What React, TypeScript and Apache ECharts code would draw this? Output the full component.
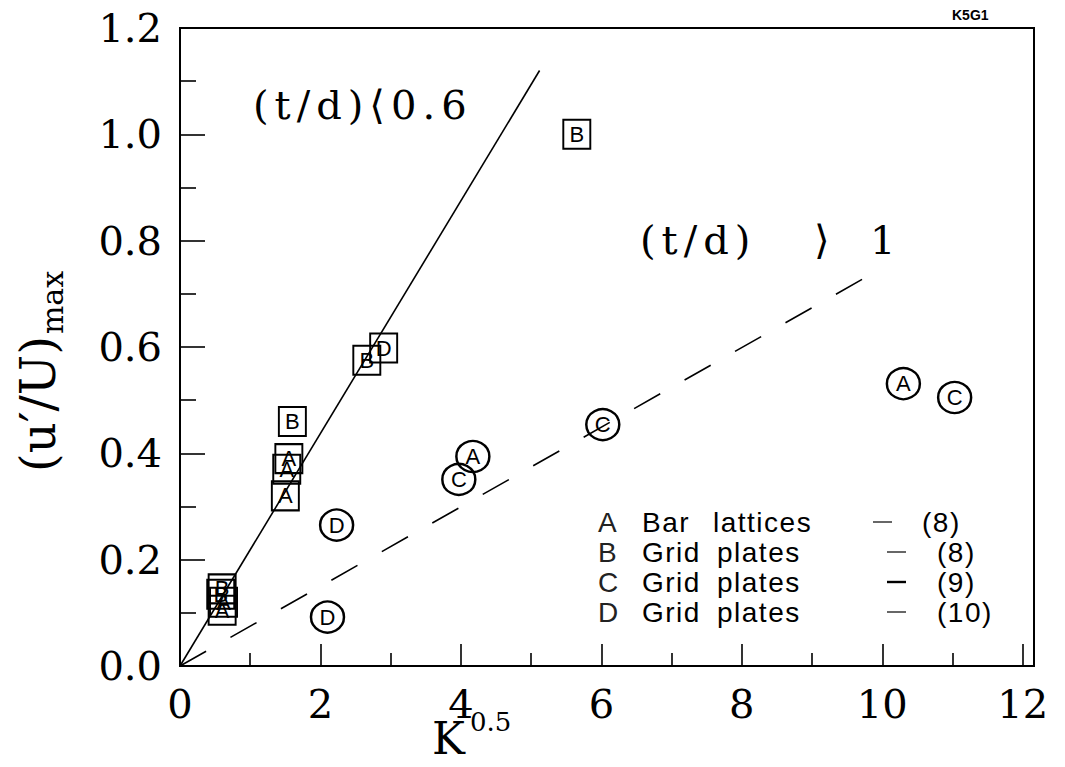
import React, { useEffect, useRef } from "react";
import * as echarts from "echarts";

// Fit lines through the origin
const fitThin: number[][] = [[0, 0], [5.12, 1.12]]; // (t/d) < 0.6
const fitThick: number[][] = [[0, 0], [9.95, 0.745]]; // (t/d) > 1

// Thin plates (t/d < 0.6): square markers
const squareA: number[][] = [[0.62, 0.12], [0.6, 0.105], [1.55, 0.39], [1.52, 0.37], [1.5, 0.32]];
const squareB: number[][] = [[0.6, 0.145], [0.58, 0.135], [1.6, 0.46], [5.65, 1.0], [2.66, 0.575]];
const squareD: number[][] = [[2.9, 0.598]];

// Thick plates (t/d > 1): circle markers
const circleA: number[][] = [[4.17, 0.394], [10.3, 0.531]];
const circleC: number[][] = [[3.97, 0.351], [6.02, 0.454], [11.03, 0.505]];
const circleD: number[][] = [[2.23, 0.265], [2.1, 0.092]];

// Axis ticks
const xTickValues = [0, 2, 4, 6, 8, 10, 12];
const yTickValues = [0, 0.2, 0.4, 0.6, 0.8, 1.0, 1.2];

// Key
const keyLetters = ["A", "B", "C", "D"];
const keyKinds = ["Bar", "Grid", "Grid", "Grid"];
const keyNames = ["lattices", "plates", "plates", "plates"];
const keyRefs = ["(8)", "(8)", "(9)", "(10)"];

const SERIF = '"DejaVu Serif", serif';
const SANS = '"Liberation Sans", Arial, sans-serif';
const INK = "#000";

export default function App() {
  const ref = useRef<HTMLDivElement>(null);

  useEffect(() => {
    document.body.style.margin = "0";
    if (!ref.current) return;
    const chart = echarts.init(ref.current, null, { renderer: "svg" });
    const ctx = document.createElement("canvas").getContext("2d")!;

    // lay out a string character by character with extra tracking
    const spaced = (text: string, x: number, y: number, size: number, family: string, extra: number) => {
      ctx.font = `${size}px ${family}`;
      let cx = x;
      const out: any[] = [];
      for (const ch of Array.from(text)) {
        if (ch !== " ") {
          out.push({
            type: "text",
            x: cx,
            y,
            silent: true,
            style: { text: ch, fontSize: size, fontFamily: family, fill: INK, align: "left", verticalAlign: "middle" },
          });
        }
        cx += ctx.measureText(ch).width + extra;
      }
      return out;
    };

    const txt = (text: string, x: number, y: number, size: number, family: string, extra: any = {}) => ({
      type: "text",
      x,
      y,
      silent: true,
      style: { text, fontSize: size, fontFamily: family, fill: INK, align: "left", verticalAlign: "middle", ...extra },
    });

    ctx.font = `48px ${SERIF}`;
    const yNameMain = "(u\u2032/U)";
    const yNameW = ctx.measureText(yNameMain).width;

    // key rows
    const keyRowY = [522, 552, 582, 612];
    const keyEls: any[] = [];
    keyLetters.forEach((letter, i) => {
      const y = keyRowY[i];
      keyEls.push(txt(letter, 598, y, 28, SANS, { fill: "#222" }));
      keyEls.push(...spaced(keyKinds[i], 642, y, 28, SANS, 1.5));
      keyEls.push(...spaced(keyNames[i], i === 0 ? 713 : 717, y, 28, SANS, 1.5));
      const dx = i === 0 ? 873 : 887;
      keyEls.push({
        type: "line",
        silent: true,
        shape: { x1: dx, y1: y, x2: dx + 19, y2: y },
        style: { stroke: INK, lineWidth: i === 2 ? 2.4 : 1.2 },
      });
      keyEls.push(...spaced(keyRefs[i], i === 0 ? 922 : 937, y, 28, SANS, 1.5));
    });

    const markerLabel = (letter: string) => ({
      show: true,
      position: "inside",
      formatter: letter,
      fontFamily: SANS,
      fontSize: 22,
      color: INK,
      textBorderWidth: 0,
    });

    const squareSeries = (letter: string, data: number[][]) => ({
      type: "scatter",
      name: letter,
      data,
      symbol: "rect",
      symbolSize: [27, 29],
      itemStyle: { color: "rgba(255,255,255,0)", borderColor: INK, borderWidth: 2, opacity: 1 },
      label: markerLabel(letter),
      z: 5,
    });
    const circleSeries = (letter: string, data: number[][]) => ({
      type: "scatter",
      name: letter,
      data,
      symbol: "circle",
      symbolSize: [33, 31],
      itemStyle: { color: "rgba(255,255,255,0)", borderColor: INK, borderWidth: 2.4, opacity: 1 },
      label: markerLabel(letter),
      z: 5,
    });

    chart.setOption({
      animation: false,
      backgroundColor: "#fff",
      grid: { left: 180, top: 28, right: 31, bottom: 101, show: true, borderColor: INK, borderWidth: 2 },
      xAxis: {
        type: "value",
        min: 0,
        max: 12.16,
        interval: 2,
        splitLine: { show: false },
        axisLine: { show: true, onZero: false, lineStyle: { color: INK, width: 2 } },
        axisTick: { show: true, inside: true, length: 22, lineStyle: { color: INK, width: 1.6 } },
        minorTick: { show: true, splitNumber: 2, length: 13, lineStyle: { color: INK, width: 1.6 } },
        axisLabel: {
          margin: 18,
          fontFamily: SERIF,
          fontSize: 40,
          color: INK,
          showMaxLabel: false,
          formatter: (v: number) => {
            const t = xTickValues.find((k) => Math.abs(k - v) < 1e-6);
            return t === undefined ? "" : String(t);
          },
        },
      },
      yAxis: {
        type: "value",
        min: 0,
        max: 1.2,
        interval: 0.2,
        splitLine: { show: false },
        axisLine: { show: true, onZero: false, lineStyle: { color: INK, width: 2 } },
        axisTick: { show: true, inside: true, length: 25, lineStyle: { color: INK, width: 1.6 } },
        minorTick: { show: true, splitNumber: 2, length: 16, lineStyle: { color: INK, width: 1.6 } },
        axisLabel: {
          margin: 18,
          fontFamily: SERIF,
          fontSize: 40,
          color: INK,
          formatter: (v: number) => {
            const t = yTickValues.find((k) => Math.abs(k - v) < 1e-6);
            return t === undefined ? "" : t.toFixed(1);
          },
        },
      },
      series: [
        {
          type: "line",
          data: fitThin,
          showSymbol: false,
          silent: true,
          lineStyle: { color: INK, width: 1.6 },
          z: 3,
        },
        {
          type: "line",
          data: fitThick,
          showSymbol: false,
          silent: true,
          lineStyle: { color: INK, width: 1.6, type: [30, 28] },
          z: 3,
        },
        squareSeries("A", squareA),
        squareSeries("B", squareB),
        squareSeries("D", squareD),
        circleSeries("A", circleA),
        circleSeries("C", circleC),
        circleSeries("D", circleD),
      ],
      graphic: [
        // y axis title
        {
          type: "group",
          x: 38,
          y: 472,
          rotation: Math.PI / 2,
          silent: true,
          children: [
            txt(yNameMain, 0, 0, 48, SERIF),
            txt("max", yNameW + 2, 14, 30, SERIF),
          ],
        },
        // x axis title
        txt("K", 432, 738, 44, SERIF),
        txt("0.5", 470, 722, 26, SERIF),
        // regime annotations
        ...spaced("(t/d)\u27E80.6", 253, 105, 40, SERIF, 6),
        ...spaced("(t/d)", 640, 240, 40, SERIF, 6),
        txt("\u27E9", 814, 240, 40, SERIF),
        txt("1", 870, 240, 40, SERIF),
        // key
        ...keyEls,
        // figure tag
        txt("K5G1", 952, 15, 14, SANS, { fontWeight: "bold" }),
      ],
    });

    return () => chart.dispose();
  }, []);

  return <div ref={ref} style={{ width: 1065, height: 767 }} />;
}
